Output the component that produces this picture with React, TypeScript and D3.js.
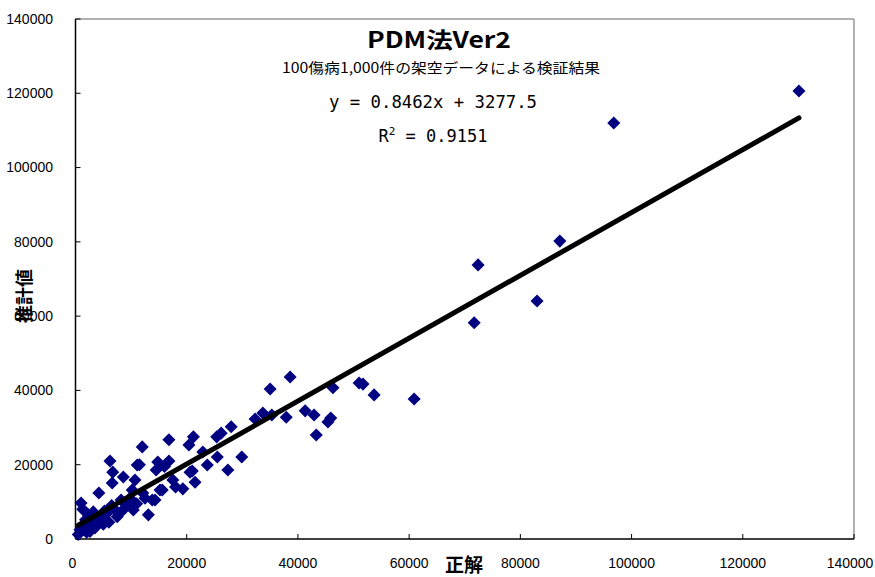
import * as d3 from 'd3';

// 正解 (actual) values, thousands of yen
const actual = [
  500, 800, 1000, 1300, 1500, 1800, 2000, 2300, 2600, 3000, 3200, 3500, 4000, 4200, 4400,
  5000, 5200, 5600, 6000, 6200, 6500, 6700, 6600, 7000, 7500, 8000, 8200, 8600, 9000, 9300,
  9800, 10200, 10400, 10700, 11100, 11500, 11000, 12000, 12100, 12500, 13100, 13800, 14300,
  14500, 14800, 15200, 15600, 16000, 16800, 16800, 17500, 18000, 19300, 20400, 20600, 21000,
  21200, 21500, 22900, 23700, 25400, 25500, 26200, 27400, 28000, 29900, 32300, 33700, 35000,
  35300, 37900, 38600, 41300, 42900, 43300, 45400, 45900, 46300, 51000, 51700, 53700, 60900,
  71700, 72400, 83000, 87100, 96800, 130100,
];

// 推計値 (estimated) values
const estimated = [
  1200, 2500, 9700, 8000, 3500, 5200, 1800, 6500, 2000, 4300, 7300, 3000, 5500, 12400, 5600,
  4000, 7500, 6800, 4500, 21000, 9000, 18000, 15100, 8000, 6000, 7000, 10500, 16700, 8500, 9200,
  11000, 13200, 7800, 15900, 19900, 20000, 9500, 24800, 12400, 11000, 6500, 10500, 10500,
  18600, 20700, 13200, 13200, 19500, 26700, 21000, 15900, 14000, 13500, 25300, 18000, 18300,
  27500, 15300, 23400, 19900, 27500, 22100, 28500, 18600, 30200, 22100, 32300, 33900, 40400,
  33400, 32800, 43600, 34500, 33400, 28000, 31500, 32600, 40700, 42000, 41700, 38800, 37700,
  58200, 73800, 64100, 80200, 112000, 120600,
];

const slope = 0.8462;
const intercept = 3277.5;
const ticks = [0, 20000, 40000, 60000, 80000, 100000, 120000, 140000];

const W = 875;
const H = 577;
const left = 75.5;
const right = 854;
const top = 19;
const bottom = 539;

export default function App() {
  const x = d3.scaleLinear().domain([0, 140000]).range([left, right]);
  const y = d3.scaleLinear().domain([0, 140000]).range([bottom, top]);

  const points = actual.map((a, i) => ({ a, e: estimated[i] }));
  const [xmin, xmax] = d3.extent(actual) as [number, number];
  const fit = d3
    .line<number>()
    .x((d) => x(d))
    .y((d) => y(slope * d + intercept));

  // squares turned 45deg, like Excel's diamond marker
  const diamond = d3.symbol().type(d3.symbolSquare).size(85)();

  const labelFont = '"Liberation Sans", Arial, sans-serif';
  const jpFont = '"Noto Sans CJK JP", sans-serif';
  const monoFont = '"DejaVu Sans Mono", "Noto Sans CJK JP", monospace';

  return (
    <div style={{ position: 'fixed', left: 0, top: 0, width: W, height: H, background: '#fff' }}>
      <svg width={W} height={H}>
        <rect width={W} height={H} fill="#fff" />

        {/* frame */}
        <line x1={left} x2={right} y1={top} y2={top} stroke="#999" strokeWidth={1.5} />
        <line x1={right} x2={right} y1={top} y2={bottom} stroke="#999" strokeWidth={1.5} />
        <line x1={left} x2={left} y1={top} y2={bottom} stroke="#000" strokeWidth={1.5} />
        <line x1={left} x2={right} y1={bottom} y2={bottom} stroke="#000" strokeWidth={1.5} />

        {ticks.map((t) => (
          <g key={'y' + t}>
            <line x1={left} x2={left + 5} y1={y(t)} y2={y(t)} stroke="#000" />
            <text x={53} y={y(t)} dy="0.35em" textAnchor="end" fontSize={14} fontFamily={labelFont} fill="#000">
              {t}
            </text>
          </g>
        ))}
        {ticks.map((t, i) => (
          <g key={'x' + t}>
            <line x1={x(t)} x2={x(t)} y1={bottom} y2={bottom - 5} stroke="#000" />
            <text
              x={i === ticks.length - 1 ? x(t) - 4 : i === 0 ? x(t) - 3 : x(t)}
              y={568}
              textAnchor="middle"
              fontSize={14}
              fontFamily={labelFont}
              fill="#000"
            >
              {t}
            </text>
          </g>
        ))}

        {points.map((p, i) => (
          <path
            key={i}
            d={diamond as string}
            transform={`translate(${x(p.a)},${y(p.e)}) rotate(45)`}
            fill="#000080"
          />
        ))}

        <path d={fit([xmin, xmax]) as string} stroke="#000" strokeWidth={5} strokeLinecap="round" fill="none" />

        {/* titles */}
        <text x={439} y={48} textAnchor="middle" fontSize={22} fontWeight="bold" fontFamily={jpFont}
          textLength={144} lengthAdjust="spacingAndGlyphs">
          PDM法Ver2
        </text>
        <text x={441} y={73} textAnchor="middle" fontSize={14} fontFamily={jpFont}
          textLength={318} lengthAdjust="spacingAndGlyphs">
          100傷病1,000件の架空データによる検証結果
        </text>
        <text x={433} y={108} textAnchor="middle" fontSize={17} fontFamily={monoFont}
          textLength={208} lengthAdjust="spacingAndGlyphs">
          y = 0.8462x + 3277.5
        </text>
        <text x={433} y={142} textAnchor="middle" fontSize={17} fontFamily={monoFont}>
          R<tspan dy={-7} fontSize={11}>2</tspan><tspan dy={7}> = 0.9151</tspan>
        </text>

        <text x={464} y={572} textAnchor="middle" fontSize={19} fontWeight="bold" fontFamily={jpFont}>
          正解
        </text>
        <text transform="translate(31,296) rotate(-90)" textAnchor="middle" fontSize={18} fontWeight="bold" fontFamily={jpFont}>
          推計値
        </text>
      </svg>
    </div>
  );
}
